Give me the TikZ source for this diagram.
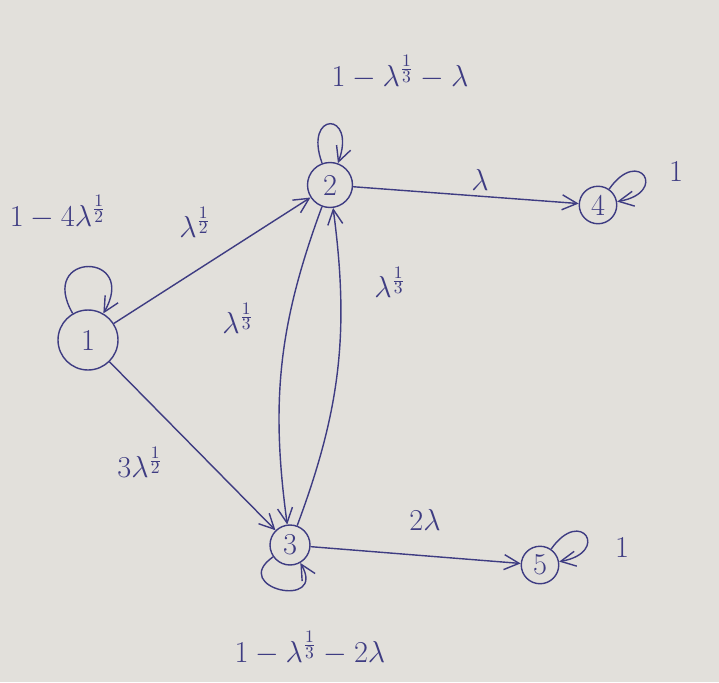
\documentclass[tikz,border=0pt]{standalone}
\usetikzlibrary{arrows.meta}
\definecolor{paper}{RGB}{226,224,219}
\definecolor{ink}{RGB}{62,60,130}
\begin{document}
\begin{tikzpicture}[x=0.02cm,y=-0.02cm,
  state/.style={circle,draw=ink,thick,text=ink,inner sep=0pt,minimum size=0.8cm,font=\LARGE},
  arr/.style={-{Straight Barb[length=3mm,width=3mm]},ink,thick},
  lbl/.style={text=ink,font=\LARGE}]
\fill[paper] (0,0) rectangle (719,682);
\useasboundingbox (0,0) rectangle (719,682);
\node[state,minimum size=1.2cm] (n1) at (88,340) {1};
\node[state,minimum size=0.9cm] (n2) at (330,185) {2};
\node[state] (n3) at (290,545) {3};
\node[state,minimum size=0.75cm] (n4) at (598,205) {4};
\node[state,minimum size=0.75cm] (n5) at (540,565) {5};
% self loops
\draw[arr] (n1) to[out=120,in=60,looseness=6] (n1);
\draw[arr] (n2) to[out=110,in=70,looseness=9] (n2);
\draw[arr] (n3) to[out=215,in=300,looseness=5] (n3);
\draw[arr] (n4) to[out=55,in=10,looseness=9] (n4);
\draw[arr] (n5) to[out=55,in=10,looseness=9] (n5);
% edges
\draw[arr] (n1) -- (n2);
\draw[arr] (n1) -- (n3);
\draw[arr] (n2) to[bend right=14] (n3);
\draw[arr] (n3) to[bend right=14] (n2);
\draw[arr] (n2) -- (n4);
\draw[arr] (n3) -- (n5);
% labels
\node[lbl] (l1) at (58,212) {$1-4\lambda^{\frac12}$};
\node[lbl] (l12) at (195,222) {$\lambda^{\frac12}$};
\node[lbl] (l13) at (140,462) {$3\lambda^{\frac12}$};
\node[lbl] (l23) at (238,318) {$\lambda^{\frac13}$};
\node[lbl] (l32) at (390,282) {$\lambda^{\frac13}$};
\node[lbl] (l2) at (400,72) {$1-\lambda^{\frac13}-\lambda$};
\node[lbl] (l24) at (480,180) {$\lambda$};
\node[lbl] (l35) at (425,520) {$2\lambda$};
\node[lbl] (l3) at (310,648) {$1-\lambda^{\frac13}-2\lambda$};
\node[lbl] (l4) at (676,172) {$1$};
\node[lbl] (l5) at (622,548) {$1$};
\end{tikzpicture}
\end{document}
